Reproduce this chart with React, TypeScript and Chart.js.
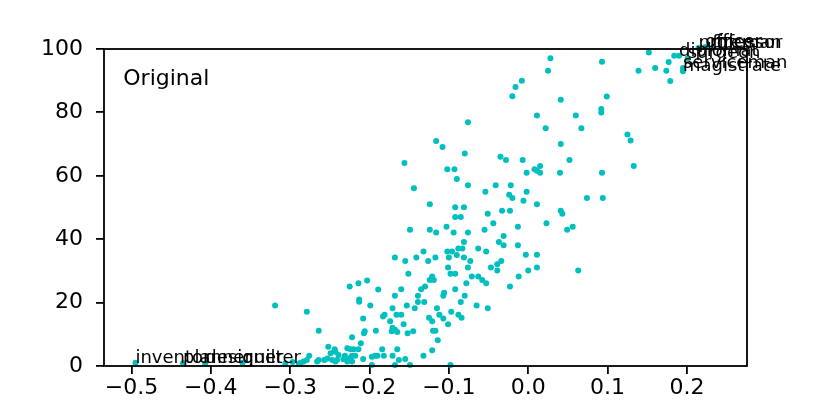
import React, { useEffect, useRef } from "react";
import { Chart, registerables } from "chart.js";

Chart.register(...registerables);

const FONT = '"DejaVu Sans", sans-serif';

const xTicks = [-0.5, -0.4, -0.3, -0.2, -0.1, 0.0, 0.1, 0.2];
const yTicks = [0, 20, 40, 60, 80, 100];
const xLimits = [-0.5346, 0.2757];
const yLimits = [0, 100];

const pointX = [
  -0.076, 0.022, 0.067, 0.125, 0.129, -0.116, -0.108, 0.041, -0.08, -0.156,
  -0.035, -0.028, -0.007, 0.052, -0.102, -0.093, -0.002, 0.008, 0.015, 0.015,
  0.011, 0.04, 0.093, -0.09, -0.144, -0.076, -0.054, -0.041, -0.022, -0.002,
  -0.024, -0.02, -0.006, 0.011, 0.074, 0.094, -0.124, -0.092, -0.081, -0.092,
  -0.085, -0.033, -0.023, -0.051, 0.041, 0.043, -0.044, 0.023, -0.149, -0.124,
  -0.116, -0.103, -0.094, -0.076, -0.055, -0.013, 0.049, 0.056, -0.031, -0.081,
  -0.037, -0.031, -0.013, -0.063, -0.102, -0.096, -0.088, -0.083, -0.09, -0.1,
  -0.053, -0.132, -0.168, -0.155, -0.141, -0.126, -0.117, -0.081, -0.073, -0.003,
  0.011, -0.101, -0.076, -0.047, -0.039, -0.034, -0.039, 0.0, 0.011, 0.063,
  -0.151, -0.098, -0.092, -0.071, -0.063, -0.058, -0.053, -0.012, -0.121, -0.119,
  -0.124, -0.078, -0.023, -0.13, -0.135, -0.16, -0.168, -0.139, -0.106, -0.107,
  -0.092, -0.08, -0.131, -0.139, -0.153, -0.085, -0.065, -0.171, -0.143, -0.115,
  -0.097, -0.051, -0.181, -0.166, -0.16, -0.112, -0.125, -0.088, -0.084,
  0.028, 0.093, 0.025, 0.152, 0.139, 0.16, 0.174, 0.177, 0.179, 0.184,
  0.19, 0.195, 0.195, 0.201, -0.008, -0.016, -0.02, 0.041, 0.099, 0.092,
  0.092, 0.011, 0.06, 0.133,
  -0.225, -0.214, -0.203, -0.189, -0.319, -0.279, -0.213, -0.213, -0.199, -0.183,
  -0.208, -0.174, -0.171, -0.168, -0.165, -0.172, -0.157, -0.145, -0.152, -0.121,
  -0.107, -0.12, -0.117, -0.114, -0.101, -0.121, -0.132, -0.155, -0.171, -0.184,
  -0.182, -0.193, -0.19, -0.207, -0.206, -0.192, -0.222, -0.211, -0.214, -0.22,
  -0.224, -0.264, -0.252, -0.244, -0.276, -0.208, -0.231, -0.233, -0.222, -0.165,
  -0.264, -0.257, -0.253, -0.247, -0.243, -0.241, -0.228, -0.224, -0.222, -0.218,
  -0.197, -0.163, -0.283, -0.287, -0.495, -0.243, -0.249, -0.239, -0.228, -0.228,
  -0.266, -0.279, -0.149, -0.168, -0.098, -0.197, -0.306, -0.297, -0.289,
  -0.435, -0.407, -0.36, 0.2145, 0.223, 0.232,
];

const pointY = [
  76.9, 75.0, 75.0, 73.0, 71.1, 71.0, 69.1, 70.0, 67.0, 64.0,
  66.0, 65.0, 65.0, 65.0, 62.1, 62.1, 61.0, 62.1, 63.1, 61.0,
  61.6, 61.0, 61.0, 59.0, 56.1, 57.0, 55.0, 57.0, 57.0, 55.0,
  54.0, 53.0, 52.1, 51.0, 53.0, 53.0, 51.0, 50.1, 50.1, 47.0,
  47.0, 49.0, 49.0, 48.0, 49.0, 48.0, 45.0, 45.0, 43.0, 43.0,
  42.1, 43.9, 42.1, 42.1, 43.0, 43.9, 43.0, 43.9, 41.0, 39.1,
  39.1, 38.1, 38.1, 37.1, 36.1, 36.1, 37.1, 37.1, 35.0, 34.2,
  36.1, 36.1, 34.2, 33.1, 34.2, 33.1, 34.2, 34.2, 33.1, 35.1,
  35.1, 31.1, 31.1, 31.1, 32.1, 33.1, 30.1, 30.1, 31.1, 30.1,
  29.1, 29.1, 29.1, 28.2, 28.2, 27.1, 26.1, 28.2, 28.2, 27.1,
  27.1, 26.1, 25.1, 25.1, 24.2, 24.2, 22.2, 22.2, 23.1, 22.2,
  24.2, 22.2, 20.2, 20.2, 19.1, 20.2, 19.1, 18.2, 18.2, 18.2,
  17.1, 18.2, 16.2, 16.2, 16.2, 16.2, 15.2, 16.2, 15.2,
  97.1, 96.0, 93.1, 98.9, 93.1, 94.0, 93.1, 95.9, 89.9, 97.9,
  97.9, 94.0, 93.0, 97.1, 90.0, 88.0, 85.1, 84.0, 85.0, 81.1,
  80.0, 79.0, 79.0, 63.1,
  25.1, 26.1, 27.0, 24.1, 19.1, 17.1, 21.0, 20.3, 19.1, 15.6,
  15.0, 14.1, 12.1, 11.4, 10.7, 11.0, 13.2, 11.0, 10.3, 14.1,
  15.0, 11.1, 11.1, 8.1, 13.2, 5.0, 3.2, 2.2, 3.2, 5.3,
  3.2, 3.2, 3.2, 10.3, 11.0, 11.1, 9.1, 7.2, 5.3, 5.3,
  5.3, 11.1, 6.1, 5.3, 3.2, 2.2, 3.2, 2.1, 3.2, 5.3,
  1.9, 1.9, 2.4, 1.9, 1.4, 1.9, 1.9, 2.6, 1.4, 3.2,
  2.9, 1.9, 1.4, 1.0, 1.0, 4.5, 4.0, 3.5, 5.6, 1.4,
  1.4, 1.9, 0.3, 0.3, 0.3, 0.3, 0.9, 1.3, 0.6,
  0.9, 0.8, 1.0, 100.3, 100.6, 100.2,
];

const labelWords = [
  "inventor", "planner", "designer", "quilter",
  "professor", "officer", "fireman", "diplomat", "surgeon", "serviceman", "magistrate",
];
const labelX = [-0.495, -0.435, -0.407, -0.36, 0.2145, 0.223, 0.232, 0.19, 0.201, 0.195, 0.195];
const labelY = [1.0, 0.9, 0.8, 1.0, 100.3, 100.6, 100.2, 97.9, 97.1, 94.0, 93.0];

const panelTitle = "Original";

const fmtTick = (v: number) => {
  const s = Number(v).toFixed(1);
  return s.startsWith("-") ? "\u2212" + s.slice(1) : s;
};

const overlayPlugin = {
  id: "overlay",
  afterDatasetsDraw(chart: any) {
    const { ctx, chartArea, scales } = chart;
    ctx.save();
    ctx.fillStyle = "#000";
    ctx.textAlign = "left";
    ctx.textBaseline = "alphabetic";
    ctx.font = `18px ${FONT}`;
    for (let i = 0; i < labelWords.length; i++) {
      const px = scales.x.getPixelForValue(labelX[i]);
      const py = scales.y.getPixelForValue(labelY[i]);
      ctx.fillText(labelWords[i], px, py);
    }
    ctx.font = `22px ${FONT}`;
    const w = chartArea.right - chartArea.left;
    const h = chartArea.bottom - chartArea.top;
    ctx.fillText(panelTitle, chartArea.left + 0.03 * w, chartArea.bottom - 0.885 * h);
    ctx.strokeStyle = "#000";
    ctx.lineWidth = 1.8;
    ctx.strokeRect(chartArea.left, chartArea.top, w, h);
    ctx.restore();
  },
};

export default function App() {
  const ref = useRef<HTMLCanvasElement | null>(null);
  useEffect(() => {
    document.body.style.margin = "0";
    const canvas = ref.current;
    if (!canvas) return;
    const data = pointX.map((x, i) => ({ x, y: pointY[i] }));
    const chart = new Chart(canvas, {
      type: "scatter",
      data: {
        datasets: [
          {
            data,
            backgroundColor: "#00bfbf",
            borderWidth: 0,
            pointRadius: 3,
            pointHoverRadius: 3,
            clip: false as any,
          },
        ],
      },
      options: {
        animation: false,
        responsive: false,
        devicePixelRatio: 1,
        layout: { padding: { top: 49, right: 83, left: 0, bottom: 0 } },
        plugins: { legend: { display: false }, tooltip: { enabled: false } },
        events: [],
        scales: {
          x: {
            type: "linear",
            min: xLimits[0],
            max: xLimits[1],
            afterBuildTicks: (s: any) => {
              s.ticks = xTicks.map((v) => ({ value: v }));
            },
            afterFit: (s: any) => {
              s.height = 45;
            },
            ticks: {
              callback: (v: any) => fmtTick(v),
              color: "#000",
              font: { size: 22, family: FONT },
              padding: 1,
              maxRotation: 0,
              autoSkip: false,
            },
            grid: { drawOnChartArea: false, tickLength: 8, color: "#000", lineWidth: 1.8 },
            border: { display: false },
          },
          y: {
            type: "linear",
            min: yLimits[0],
            max: yLimits[1],
            afterBuildTicks: (s: any) => {
              s.ticks = yTicks.map((v) => ({ value: v }));
            },
            afterFit: (s: any) => {
              s.width = 104;
            },
            ticks: {
              callback: (v: any) => String(v),
              color: "#000",
              font: { size: 22, family: FONT },
              padding: 13,
              autoSkip: false,
            },
            grid: { drawOnChartArea: false, tickLength: 8, color: "#000", lineWidth: 1.8 },
            border: { display: false },
          },
        },
      },
      plugins: [overlayPlugin],
    });
    return () => chart.destroy();
  }, []);
  return (
    <canvas ref={ref} width={830} height={411} style={{ display: "block", width: 830, height: 411 }} />
  );
}
